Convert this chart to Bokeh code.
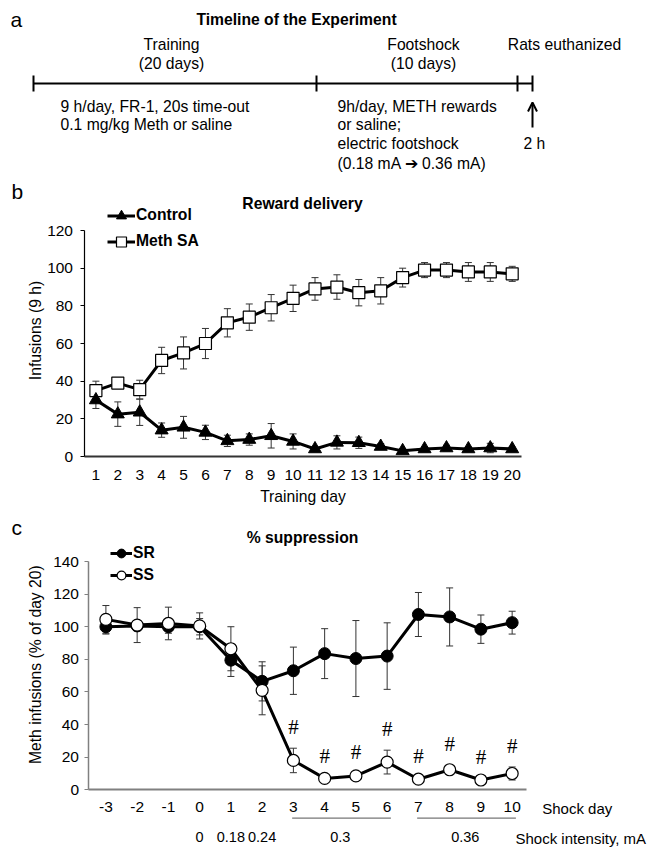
from bokeh.plotting import figure
from bokeh.layouts import column
from bokeh.models import (Range1d, LinearAxis, FixedTicker, Label, Arrow, OpenHead,
                          Whisker, TeeHead, ColumnDataSource, Legend, LegendItem)
from bokeh.core.properties import value
from bokeh.embed import file_html
from bokeh.resources import INLINE

FONT = "Liberation Sans"
SERIF = "Liberation Serif"

# ---------------- data ----------------
timeline_title = "Timeline of the Experiment"
phase_names = ["Training", "Footshock", "Rats euthanized"]
phase_durations = ["(20 days)", "(10 days)"]
training_notes = ["9 h/day, FR-1, 20s time-out", "0.1 mg/kg Meth or saline"]
footshock_notes = ["9h/day, METH rewards", "or saline;", "electric footshock",
                   "(0.18 mA \u2794 0.36 mA)"]
euth_delay = "2 h"

training_days = list(range(1, 21))
control = [30, 22.5, 23.5, 14, 15.5, 12.8, 8.3, 9, 11, 8, 4, 7.5, 7.3, 5.3, 3, 4, 4.5, 4, 4.5, 4]
control_err = [4.5, 6.5, 7, 3.8, 5.8, 3.8, 3, 3, 6.5, 4, 1, 3.5, 3, 1.5, 1, 1, 1.5, 1, 2.5, 1]
meth_sa = [35, 39, 35.5, 51, 55, 60, 71, 74, 79, 84, 89, 90, 87, 88, 95, 99, 99, 98, 98, 97]
meth_sa_err = [5, 2, 5, 7, 8.5, 8, 7.5, 7, 7, 7, 6, 6.5, 7, 7, 5, 4, 4, 5, 5, 4]

shock_days = list(range(-3, 11))
sr = [100, 100.5, 100, 100, 79.5, 66.5, 73, 83.5, 80.5, 82, 107.5, 106, 98.5, 102.5]
sr_err = [4.5, 3, 4, 5, 10, 12, 14.5, 15.3, 23.3, 20.4, 13.5, 17.8, 8.7, 7]
ss = [104.5, 101, 102, 100.5, 86.5, 61, 18, 7, 8.5, 17, 6.5, 12.3, 6, 10]
ss_err = [8.5, 10.7, 10, 8, 13.5, 15, 7.5, 1, 1.5, 7.3, 1, 2.5, 1, 4]
sig_days = [3, 4, 5, 6, 7, 8, 9, 10]
shock_intensity_days = [0, 1, 2, 4.5, 8.5]
shock_intensity_labels = ["0", "0.18", "0.24", "0.3", "0.36"]
shock_groups = [(3, 6), (7, 10)]

W = 651


def txt(p, xs, ys, texts, size="15.7px", align="center", style="normal", font=FONT):
    p.text(x=xs, y=ys, text=texts, text_font=value(font), text_font_size=value(size),
           text_align=value(align), text_baseline=value("middle"),
           text_font_style=value(style), text_color="black")


def label(p, x, y, text, size="15.7px", align="left", style="normal"):
    p.add_layout(Label(x=x, y=y, text=text, text_align=align, text_baseline="middle",
                       text_font=FONT, text_font_size=size, text_font_style=style,
                       text_color="black"))


def style_axis(ax, size="15.5px"):
    ax.major_label_text_font = FONT
    ax.major_label_text_font_size = size
    ax.major_label_text_color = "black"
    ax.axis_label_text_font = FONT
    ax.axis_label_text_font_size = "15.7px"
    ax.axis_label_text_font_style = "normal"
    ax.axis_label_text_color = "black"
    ax.minor_tick_line_color = None
    ax.minor_tick_out = 0
    ax.minor_tick_in = 0


def bare_fig(h, xr, yr):
    p = figure(width=W, height=h, x_range=xr, y_range=yr, output_backend="svg",
               toolbar_location=None, min_border=0)
    p.outline_line_color = None
    p.grid.visible = False
    return p


def label_axis(p, text, loc, center, standoff):
    ax = LinearAxis(axis_label=text, ticker=FixedTicker(ticks=[]), bounds=(0, 2 * center),
                    fixed_location=loc, axis_line_color=None, major_tick_line_color=None,
                    major_tick_out=0, major_tick_in=0, axis_label_standoff=standoff)
    style_axis(ax)
    p.add_layout(ax, "left")


def whiskers(p, xs, vals, errs, color):
    src = ColumnDataSource(dict(x=xs, upper=[v + e for v, e in zip(vals, errs)],
                                lower=[v - e for v, e in zip(vals, errs)]))
    p.add_layout(Whisker(source=src, base="x", upper="upper", lower="lower",
                         line_color=color, line_width=1, level="underlay",
                         upper_head=TeeHead(size=7, line_color=color, line_width=1),
                         lower_head=TeeHead(size=7, line_color=color, line_width=1)))


# ---------------- panel a: timeline (diagram in page pixels) ----------------
A_H = 178
pa = figure(width=W, height=A_H, x_range=Range1d(0, W), y_range=Range1d(A_H, 0),
            x_axis_type=None, y_axis_type=None, output_backend="svg",
            toolbar_location=None, min_border=0)
pa.outline_line_color = None
tl_y = 83
tl_ticks = [33, 316, 517, 532]
pa.segment(x0=[tl_ticks[0]], y0=[tl_y], x1=[tl_ticks[-1]], y1=[tl_y],
           line_width=2, line_color="black")
pa.segment(x0=tl_ticks, y0=[tl_y - 8] * 4, x1=tl_ticks, y1=[tl_y + 8] * 4,
           line_width=2, line_color="black")
pa.add_layout(Arrow(end=OpenHead(size=9, line_width=2), x_start=532, y_start=127,
                    x_end=532, y_end=102, line_width=2, line_color="black"))
txt(pa, [10], [19], ["a"], size="21px", align="left")
txt(pa, [296], [19], [timeline_title], style="bold")
txt(pa, [171, 423, 564], [44, 44, 44], phase_names)
txt(pa, [171, 423], [63, 63], phase_durations)
txt(pa, [60, 60], [106, 124], training_notes, align="left")
txt(pa, [337] * 4, [106, 124, 143, 163], footshock_notes, align="left")
txt(pa, [523], [143], [euth_delay], align="left")

# ---------------- panel b: reward delivery ----------------
B_TOP = A_H
B_H = 512 - B_TOP
B_Y0, B_PY = 456.0, 1.883          # page pixel of value 0, pixels per unit
B_X1, B_PX = 95.4, 21.91           # page pixel of day 1, pixels per day


def bx(px):
    return 1 + (px - B_X1) / B_PX


def by(py):
    return (B_Y0 - py) / B_PY


pb = bare_fig(B_H, Range1d(bx(0), bx(W)), Range1d(by(B_TOP + B_H), by(B_TOP)))
B_YAX = bx(83.5)

whiskers(pb, training_days, meth_sa, meth_sa_err, "#333333")
whiskers(pb, training_days, control, control_err, "#333333")
m_line = pb.line(training_days, meth_sa, line_width=3, line_color="black")
m_pts = pb.scatter(training_days, meth_sa, marker="square", size=12, fill_color="white",
                   line_color="black", line_width=1.2)
c_line = pb.line(training_days, control, line_width=3, line_color="black")
c_pts = pb.scatter(training_days, control, marker="triangle", size=13, fill_color="black",
                   line_color="black")

xa = pb.xaxis[0]
style_axis(xa)
xa.fixed_location = 0
xa.bounds = (B_YAX, bx(520.8))
xa.ticker = FixedTicker(ticks=training_days)
xa.major_tick_line_color = None
xa.major_tick_out = 0
xa.major_tick_in = 0
xa.axis_line_color = "#333333"
xa.axis_line_width = 2
xa.major_label_standoff = 13
xa.axis_label = "Training day"
xa.axis_label_standoff = 5

ya = pb.yaxis[0]
style_axis(ya)
ya.fixed_location = B_YAX
ya.ticker = FixedTicker(ticks=[0, 20, 40, 60, 80, 100, 120])
ya.bounds = (0, 120)
ya.major_tick_out = 4
ya.major_tick_in = 0
ya.major_tick_line_color = "black"
ya.axis_line_color = "black"
ya.axis_line_width = 1.2
ya.major_label_standoff = 7
label_axis(pb, "Infusions (9 h)", B_YAX, by(330), 41)

leg_b = Legend(items=[LegendItem(label="Control", renderers=[c_line, c_pts]),
                      LegendItem(label="Meth SA", renderers=[m_line, m_pts])],
               location=(107, B_TOP + B_H - 253.5), orientation="vertical",
               glyph_width=28, glyph_height=25, spacing=1, label_standoff=1,
               padding=0, margin=0, border_line_color=None, background_fill_alpha=0,
               label_text_font=FONT, label_text_font_size="15.7px",
               label_text_font_style="bold", label_text_color="black")
pb.add_layout(leg_b)
label(pb, bx(302), by(203), "Reward delivery", align="center", style="bold")
label(pb, bx(11), by(191), "b", size="21px")

# ---------------- panel c: % suppression ----------------
C_TOP = B_TOP + B_H
C_H = 849 - C_TOP
C_Y0, C_PY = 789.3, 1.6307
C_X0, C_PX = 105.4, 31.25          # page pixel of shock day -3, pixels per day


def cx(px):
    return -3 + (px - C_X0) / C_PX


def cy(py):
    return (C_Y0 - py) / C_PY


pc = bare_fig(C_H, Range1d(cx(0), cx(W)), Range1d(cy(C_TOP + C_H), cy(C_TOP)))
C_YAX = cx(87.5)
AX_GRAY = "#808080"

whiskers(pc, shock_days, sr, sr_err, "#333333")
whiskers(pc, shock_days, ss, ss_err, "#333333")
sr_line = pc.line(shock_days, sr, line_width=3, line_color="black")
sr_pts = pc.scatter(shock_days, sr, marker="circle", size=12, fill_color="black",
                    line_color="black")
ss_line = pc.line(shock_days, ss, line_width=3, line_color="black")
ss_pts = pc.scatter(shock_days, ss, marker="circle", size=12, fill_color="white",
                    line_color="black", line_width=1.2)

sig_y = [ss[shock_days.index(d)] + ss_err[shock_days.index(d)] + 13 for d in sig_days]
pc.text(x=sig_days, y=sig_y, text=["#"] * len(sig_days), text_font=value(SERIF),
        text_font_size=value("21px"), text_align=value("center"),
        text_baseline=value("middle"), text_color="black")

xc = pc.xaxis[0]
style_axis(xc)
xc.fixed_location = 0
xc.bounds = (C_YAX, cx(525.8))
xc.ticker = FixedTicker(ticks=shock_days)
xc.major_label_overrides = {d: str(d) for d in shock_days}
xc.major_tick_line_color = None
xc.major_tick_out = 0
xc.major_tick_in = 0
xc.axis_line_color = AX_GRAY
xc.axis_line_width = 2
xc.major_label_standoff = 12

xi = LinearAxis(ticker=FixedTicker(ticks=shock_intensity_days), fixed_location=0,
                major_label_overrides=dict(zip(shock_intensity_days, shock_intensity_labels)),
                axis_line_color=None, major_tick_line_color=None, major_tick_out=0,
                major_tick_in=0, major_label_standoff=42)
style_axis(xi, size="14.5px")
pc.add_layout(xi, "below")

yc = pc.yaxis[0]
style_axis(yc)
yc.fixed_location = C_YAX
yc.ticker = FixedTicker(ticks=[0, 20, 40, 60, 80, 100, 120, 140])
yc.bounds = (0, 140)
yc.major_tick_out = 4
yc.major_tick_in = 0
yc.major_tick_line_color = AX_GRAY
yc.axis_line_color = AX_GRAY
yc.axis_line_width = 1.5
yc.major_label_standoff = 5
label_axis(pc, "Meth infusions  (% of day 20)", C_YAX, cy(662), 45)

leg_c = Legend(items=[LegendItem(label="SR", renderers=[sr_line, sr_pts]),
                      LegendItem(label="SS", renderers=[ss_line, ss_pts])],
               location=(110, C_TOP + C_H - 586), orientation="vertical",
               glyph_width=22, glyph_height=22, spacing=0, label_standoff=1,
               padding=0, margin=0, border_line_color=None, background_fill_alpha=0,
               label_text_font=FONT, label_text_font_size="15.7px",
               label_text_font_style="bold", label_text_color="black")
pc.add_layout(leg_c)

label(pc, cx(302), cy(536.7), "% suppression", align="center", style="bold")
label(pc, cx(11), cy(527), "c", size="21px")
label(pc, cx(541.7), cy(808.3), "Shock day", size="15px")
label(pc, cx(515), cy(838.3), "Shock intensity, mA", size="15px")
for g0, g1 in shock_groups:
    pc.add_layout(Arrow(end=None, start=None, x_start=g0 - 0.04, y_start=cy(817.7),
                        x_end=g1 + 0.12, y_end=cy(817.7), line_color="#777777",
                        line_width=1.3))

layout = column(pa, pb, pc, spacing=0)
open("out.html", "w").write(file_html(layout, INLINE))
